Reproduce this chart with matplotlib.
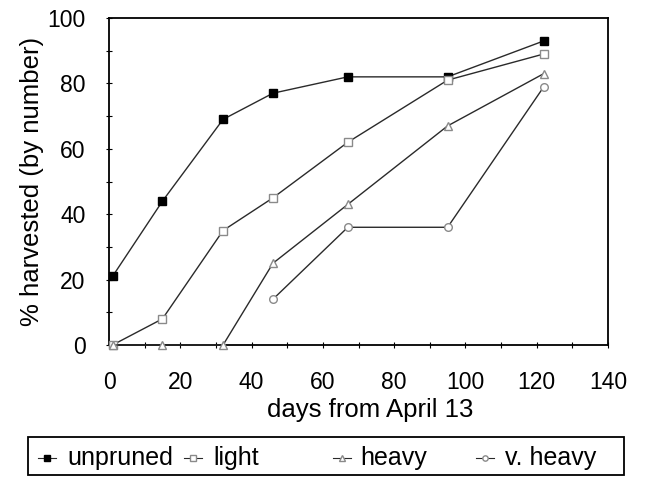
import matplotlib
matplotlib.use("Agg")
import matplotlib.pyplot as plt
import numpy as np
from matplotlib.lines import Line2D
from matplotlib.patches import Rectangle

plt.rcParams['font.family'] = ['Liberation Sans', 'DejaVu Sans']

# dados
dias = [1, 15, 32, 46, 67, 95, 122]
unpruned = [21, 44, 69, 77, 82, 82, 93]
light = [0, 8, 35, 45, 62, 81, 89]
heavy = [0, 0, 0, 25, 43, 67, 83]
v_heavy = [np.nan, np.nan, np.nan, 14, 36, 36, 79]

nomes = ['unpruned', 'light', 'heavy', 'v. heavy']

W, H = 652, 478
fig = plt.figure(figsize=(W / 100, H / 100), dpi=100)
ax = fig.add_axes([109 / W, 1 - 345 / H, (608 - 109) / W, (345 - 18) / H])

estilos = [
    dict(marker='s', ms=6, mfc='black', mec='black'),
    dict(marker='s', ms=5.5, mfc='white', mec='#8a8a8a'),
    dict(marker='^', ms=6, mfc='white', mec='#8a8a8a'),
    dict(marker='o', ms=5.5, mfc='white', mec='#8a8a8a'),
]
series = [unpruned, light, heavy, v_heavy]

for y, est in zip(series, estilos):
    ax.plot(dias, y, color='#2a2a2a', lw=1.0, clip_on=False, zorder=3, **est)

ax.set_xlim(0, 140)
ax.set_ylim(0, 100)
ax.set_xticks(np.arange(0, 141, 20))
ax.set_yticks(np.arange(0, 101, 20))
ax.set_xticks(np.arange(0, 141, 10), minor=True)
ax.set_yticks(np.arange(0, 101, 10), minor=True)
ax.tick_params(which='both', direction='inout', length=4, width=0.8)
ax.tick_params(axis='x', which='major', labelsize=16.5, pad=17)
ax.tick_params(axis='y', which='major', labelsize=16.5, pad=15)
for s in ax.spines.values():
    s.set_linewidth(1.3)

ax.set_xlabel('days from April 13', fontsize=18.5, va='center')
ax.xaxis.set_label_coords((370 - 109) / 499, (345 - 410) / 327)
ax.set_ylabel('% harvested (by number)', fontsize=18.5, va='center',
              ha='center', rotation_mode='anchor')
ax.yaxis.set_label_coords((32 - 109) / 499, 0.5)

# legenda desenhada à mão (espaçamento irregular como no original)
fig.add_artist(Rectangle((28 / W, 1 - 475 / H), (624 - 28) / W, 38 / H,
                         transform=fig.transFigure, fill=False, lw=1.3,
                         edgecolor='black'))
pos_marc = [47, 193, 342, 485]
pos_txt = [67, 213, 360, 505]
yl = 1 - 458 / H
for nome, est, xm, xt in zip(nomes, estilos, pos_marc, pos_txt):
    e = dict(est)
    e['ms'] = e['ms'] * 0.7
    fig.add_artist(Line2D([(xm - 9) / W, (xm + 9) / W], [yl, yl],
                          transform=fig.transFigure, color='#2a2a2a', lw=0.8))
    fig.add_artist(Line2D([xm / W], [yl], transform=fig.transFigure,
                          linestyle='none', **e))
    fig.text(xt / W, yl, nome, fontsize=18, va='center', ha='left')

fig.savefig('out.png', dpi=100)
